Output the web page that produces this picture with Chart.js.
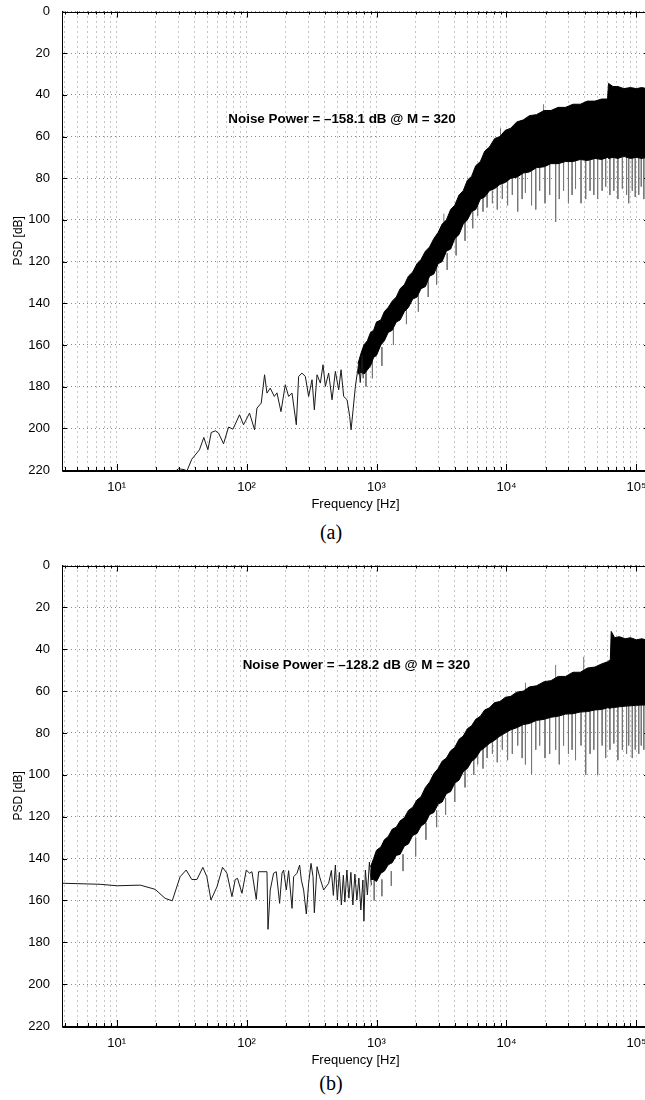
<!DOCTYPE html>
<html><head><meta charset="utf-8">
<script src="https://cdn.jsdelivr.net/npm/chart.js@4/dist/chart.umd.min.js"></script>
<style>
html,body{margin:0;padding:0;background:#fff;width:645px;height:1100px;overflow:hidden;position:relative}
.wrap{position:absolute;left:0;width:652px}
.cap{position:absolute;left:0;width:662px;text-align:center;font-family:"Liberation Serif","Times New Roman",serif;font-size:20px;color:#000;line-height:24px}
</style></head><body>
<div class="wrap" style="top:0;height:515px"><canvas id="ca" width="652" height="515"></canvas></div>
<div class="wrap" style="top:554px;height:517px"><canvas id="cb" width="652" height="517"></canvas></div>
<div class="cap" style="top:520px">(a)</div>
<div class="cap" style="top:1071px">(b)</div>
<script>
// ---------- axes ----------
const xMin = 3.8, xMax = 125000;
const yMin = 0, yMax = 220, yStep = 20;
const xMajorTicks = [10, 100, 1000, 10000, 100000];
const xMajorLabels = ['10¹', '10²', '10³', '10⁴', '10⁵'];
const xMinorMultipliers = [2, 3, 4, 5, 6, 7, 8, 9];
const xTitle = 'Frequency [Hz]';
const yTitle = 'PSD [dB]';

// ---------- chart (a) ----------
const noteA = 'Noise Power = \u2013158.1 dB @ M = 320';
const noteA_f = 543, noteA_db = 51.8;
const lineFreqA = [28.7, 29.9, 33.1, 34.8, 37.9, 43.4, 46.9, 50.4, 53.5, 57.5, 60.9, 66.5, 72.7, 78.6, 88.3, 94.8, 105.4, 115.3, 120.2, 129.7, 137.6, 143.6, 152.2, 163.5, 171.4, 184, 198.6, 210.7, 223.8, 241.5, 251.6, 267.3, 283.3, 300.4, 319, 332.3, 348.6, 369.7, 387.8, 404, 428.2, 454.9, 482.4, 511.4, 533.7, 558.9, 593.6, 621.6, 637.3, 660.3, 687.8, 729.3, 750, 775, 790];
const linePsdA  = [220.3, 219.4, 219.8, 220.4, 214.8, 210.3, 204.4, 210.3, 202, 201.2, 202.3, 207.4, 199.4, 200.4, 193.5, 198.3, 192.7, 200.7, 190.3, 187.9, 174.3, 183.1, 180.7, 184.7, 183, 192, 179.1, 184.7, 183.1, 198.3, 175.1, 173.5, 175.1, 184.7, 176.7, 191.1, 174.3, 178.3, 169.5, 179.9, 173.5, 186.3, 172.7, 181.5, 171.9, 184.7, 186.3, 194.3, 200.7, 191.1, 179.9, 168.7, 178, 165, 176];
const bandFreqA  = [720, 760, 800, 850, 900, 950, 1000, 1080, 1150, 1230, 1320, 1420, 1520, 1640, 1760, 1900, 2050, 2200, 2380, 2560, 2760, 2980, 3200, 3450, 3720, 4000, 4320, 4650, 5000, 5400, 5800, 6300, 6800, 7400, 8100, 8900, 9800, 10800, 12000, 13500, 15000, 17000, 19500, 22000, 25000, 28500, 32500, 37000, 42000, 48000, 54000, 60000, 61000, 66000, 72000, 80000, 90000, 100000, 110000, 120000];
const bandUpperA = [169, 164, 160, 158, 154, 153, 149, 148, 144, 142, 139, 137, 133, 131, 127, 125, 121, 119, 115, 113, 109, 106, 102, 100, 95, 93, 88, 86, 81, 79, 74, 72, 67, 65, 61, 60, 57, 56, 53, 52, 50, 49.5, 47.5, 47.5, 46, 46, 44.5, 44.5, 43, 43, 42, 42, 34.5, 36, 36, 37, 36.5, 37, 36.5, 37];
const bandLowerA = [174, 173, 174, 172, 170, 166, 165, 160, 158, 154, 153, 149, 148, 144, 142, 138, 137, 133, 132, 127, 126, 121, 120, 115, 114, 109, 107, 102, 100, 96, 95, 90, 89, 86, 85, 83, 82, 80, 79.5, 77.5, 77, 75, 74.5, 73, 73, 72, 72, 71, 71.5, 70.5, 71, 70, 70.5, 70, 70.5, 69.5, 70.5, 70, 70.5, 70];
const dipFreqA   = [1100, 1350, 1700, 2100, 2500, 2900, 3500, 4100, 4800, 5500, 6000, 6600, 7100, 7800, 8500, 9300, 10200, 11100, 12200, 13200, 14000, 15600, 16800, 18000, 19800, 21500, 23900, 25500, 27500, 30000, 32000, 34000, 37500, 40700, 44000, 47000, 50300, 54500, 58000, 62500, 67000, 72000, 78000, 84000, 87200, 93000, 98000, 104200, 109000, 114000, 19300, 9000, 3300, 1250, 830, 930];
const dipTopA    = [161, 152, 143, 136, 129, 122, 116, 108, 101, 96, 92, 89, 87, 86, 84, 83, 81, 80, 79, 78, 77.5, 76.5, 75.5, 75, 74.5, 73.5, 73, 73, 72.5, 72, 72, 71.5, 71, 71, 71, 70.5, 70.5, 70.5, 70, 70, 70, 70, 70, 70, 70, 70, 70, 70, 70, 70, 48, 60, 101, 146, 172, 168];
const dipBottomA = [170, 160, 150, 144, 137, 131, 124, 117, 110, 104, 98, 96, 94, 92, 95, 90, 93, 88, 96, 90, 87, 93, 95, 86, 92, 88, 101, 90, 86, 92, 88, 85, 92, 90, 86, 88, 90, 86, 84, 88, 86, 90, 85, 88, 92, 86, 89, 88, 84, 90, 44.5, 56, 97, 142, 180, 176];

// ---------- chart (b) ----------
const noteB = 'Noise Power = \u2013128.2 dB @ M = 320';
const noteB_f = 700, noteB_db = 47.5;
const lineFreqB = [3.8, 7.46, 10.1, 15.2, 19.8, 23.6, 26.8, 30.8, 34.3, 37.9, 41.5, 46.1, 49.5, 53.2, 59.2, 65.3, 70.6, 77.2, 81.8, 85.2, 92.2, 99.5, 105.4, 110, 118.8, 123.7, 143.6, 146.2, 152.2, 161.5, 169.3, 179.6, 187.4, 192.8, 202.2, 210.7, 223.8, 230.2, 244.5, 256.1, 264, 274.9, 288.4, 300.4, 313.4, 324.8, 332.3, 348.6, 365, 392, 428.2, 449.5, 465.6, 482.4, 499.7, 517.9, 536.6, 555.9, 571, 591.5, 613, 635, 658, 681.7, 706, 731.7, 758, 785.5, 800, 821, 851, 881.6, 913];
const linePsdB  = [151.8, 152.3, 153, 152.7, 154.7, 159, 160.2, 148.7, 145.5, 150, 150, 144.2, 148.7, 159.8, 153.5, 144.2, 147, 158.2, 150, 149.5, 156.6, 145.5, 147, 146.3, 159.5, 146.3, 146.3, 173.8, 155, 147, 146.3, 161.4, 147, 145.5, 155, 145.8, 163.8, 148.7, 147, 143.1, 150.3, 155, 166.5, 151.8, 142.3, 148.7, 165.9, 143.9, 148.7, 155, 151.8, 145.7, 157.6, 143.1, 159.8, 146.6, 162.2, 148, 160.8, 145.5, 158.9, 146.6, 162.2, 147.4, 159.8, 149.3, 164.6, 150.3, 169.9, 145.5, 157.4, 141.7, 152.7];
const bandFreqB  = [900, 950, 1000, 1080, 1150, 1230, 1320, 1420, 1520, 1640, 1760, 1900, 2050, 2200, 2380, 2560, 2760, 2980, 3200, 3450, 3720, 4000, 4320, 4650, 5000, 5400, 5800, 6300, 6800, 7400, 8100, 8900, 9800, 10800, 12000, 13500, 15000, 17000, 19500, 22000, 25000, 28500, 32500, 37000, 42000, 48000, 54000, 60000, 63000, 64000, 68000, 74000, 82000, 90000, 100000, 110000, 120000];
const bandUpperB = [144, 140, 136, 134.5, 131, 129.5, 126, 125, 122, 120.5, 117, 115.5, 112, 110.5, 106, 103.5, 99.5, 97, 93.5, 92, 88.5, 87, 83, 81.5, 78, 76.5, 73.5, 72, 69, 68, 65.5, 65, 63, 62.5, 60.5, 60, 58, 57.5, 55.5, 55, 53, 53, 51, 51, 49, 48.5, 47, 46, 45, 31.5, 34.5, 34, 35, 34.5, 35.5, 35, 35.6];
const bandLowerB = [150, 150, 151, 147, 146, 143, 142, 138.5, 138, 134, 133, 129, 128, 124.5, 123, 119, 118, 114, 113, 109, 108, 104, 102.5, 98.5, 97, 93.5, 92, 88.5, 87, 85, 83.5, 81.5, 80, 78.5, 77.5, 76, 75.5, 74, 73.5, 72.5, 72, 71, 70.8, 70, 69.8, 69, 68.8, 68, 68.2, 68, 67.8, 67.5, 67.2, 67, 66.8, 66.7, 66.6];
const dipFreqB   = [1100, 1300, 1600, 2000, 2400, 2900, 3400, 4000, 4800, 5600, 6000, 6600, 7100, 7800, 8500, 9300, 10200, 11100, 12200, 13200, 14000, 15600, 16800, 18000, 19800, 21500, 23900, 25500, 27500, 30000, 32000, 34000, 37500, 40700, 44000, 47000, 50300, 54500, 58000, 62500, 67000, 72000, 78000, 84000, 87200, 93000, 98000, 104200, 109000, 114000, 23900, 39300, 14000, 960];
const dipTopB    = [150, 146, 138, 130, 123, 117, 111, 104, 98, 92, 89.5, 87.5, 86, 84.5, 82.5, 81, 79.5, 78.3, 77.3, 76.4, 75.8, 75, 74.2, 73.8, 73.4, 72.7, 72.2, 71.9, 71.3, 71, 70.8, 70.5, 70, 69.9, 69.6, 69.1, 69, 68.8, 68.3, 68.2, 67.8, 67.6, 67.3, 67.1, 67, 66.9, 66.8, 66.8, 66.7, 66.6, 54.5, 50.5, 59.5, 150];
const dipBottomB = [158, 153, 146, 139, 131, 125, 119, 113, 106, 100, 95, 97, 92, 90, 94, 88, 93, 90, 86, 92, 95, 100, 88, 86, 92, 90, 88, 95, 86, 90, 88, 93, 86, 100, 90, 88, 100, 86, 92, 88, 85, 93, 88, 90, 86, 92, 88, 90, 86, 88, 47.5, 43.6, 56, 160];

// ---------- helpers ----------
const FONT = '"Liberation Sans", Arial, Helvetica, sans-serif';
const xTickValues = [];
[1, 10, 100, 1000, 10000, 100000].forEach(d => {
  [1].concat(xMinorMultipliers).forEach(m => {
    const v = d * m;
    if (v >= xMin && v <= xMax) xTickValues.push(v);
  });
});
function pts(xs, ys) { return xs.map((x, i) => ({x: x, y: ys[i]})); }
function segs(xs, tops, bots) {
  const out = [];
  xs.forEach((x, i) => { out.push({x: x, y: tops[i]}, {x: x, y: bots[i]}, {x: x, y: null}); });
  return out;
}

const framePlugin = {
  id: 'frame',
  afterDraw(chart, args, opts) {
    const {ctx, chartArea: {left, right, top, bottom}, scales: {x, y}} = chart;
    ctx.save();
    ctx.strokeStyle = '#000';
    ctx.lineWidth = 1;
    ctx.beginPath();
    x.ticks.forEach(t => {
      const px = Math.round(x.getPixelForValue(t.value)) + 0.5;
      const L = xMajorTicks.indexOf(t.value) >= 0 ? 6 : 3;
      ctx.moveTo(px, bottom); ctx.lineTo(px, bottom - L);
      ctx.moveTo(px, top); ctx.lineTo(px, top + L);
    });
    y.ticks.forEach(t => {
      const py = Math.round(y.getPixelForValue(t.value)) + 0.5;
      ctx.moveTo(left, py); ctx.lineTo(left + 5, py);
      ctx.moveTo(right, py); ctx.lineTo(right - 5, py);
    });
    ctx.stroke();
    ctx.beginPath();
    ctx.rect(Math.round(left) + 0.5, Math.round(top) + 0.5, Math.round(right - left), Math.round(bottom - top));
    ctx.stroke();
    ctx.font = 'bold 13.4px ' + FONT;
    ctx.fillStyle = '#000';
    ctx.textAlign = 'center';
    ctx.textBaseline = 'middle';
    ctx.fillText(opts.text, x.getPixelForValue(opts.f), y.getPixelForValue(opts.db));
    ctx.restore();
  }
};

function makeChart(id, line, upper, lower, dips, note, padTop, xAxisH) {
  return new Chart(document.getElementById(id), {
    type: 'line',
    data: {
      datasets: [
        {data: line, borderColor: '#1a1a1a', borderWidth: 1, pointRadius: 0, fill: false, tension: 0},
        {data: upper, borderColor: '#000', borderWidth: 1, pointRadius: 0, fill: false, tension: 0},
        {data: lower, borderColor: '#000', borderWidth: 1, pointRadius: 0, fill: '-1', backgroundColor: '#000', tension: 0},
        {data: dips, borderColor: '#777', borderWidth: 1, pointRadius: 0, fill: false, spanGaps: false, tension: 0}
      ]
    },
    options: {
      responsive: false,
      animation: false,
      devicePixelRatio: 1,
      layout: {padding: {left: 0, right: 3, top: padTop, bottom: 0}},
      plugins: {legend: {display: false}, tooltip: {enabled: false}, frame: note},
      scales: {
        x: {
          type: 'logarithmic', min: xMin, max: xMax,
          afterBuildTicks: s => { s.ticks = xTickValues.map(v => ({value: v})); },
          afterFit: s => { s.height = xAxisH; s.paddingLeft = 0; s.paddingRight = 0; },
          ticks: {
            autoSkip: false, maxRotation: 0, padding: 10, color: '#000',
            font: {family: FONT, size: 13},
            callback: v => { const i = xMajorTicks.indexOf(v); return i >= 0 ? xMajorLabels[i] : ''; }
          },
          grid: {color: '#8a8a8a', lineWidth: 1, drawTicks: false},
          border: {display: true, color: '#000', width: 1, dash: [1, 4]},
          title: {display: true, text: xTitle, color: '#000', font: {family: FONT, size: 13}, padding: {top: 0, bottom: 3}}
        },
        y: {
          type: 'linear', reverse: true, min: yMin, max: yMax,
          afterFit: s => { s.width = 62; s.paddingTop = 0; s.paddingBottom = 0; },
          ticks: {stepSize: yStep, padding: 12, color: '#000', font: {family: FONT, size: 13}},
          grid: {color: '#8a8a8a', lineWidth: 1, drawTicks: false},
          border: {display: true, color: '#000', width: 1, dash: [1, 3]},
          title: {display: true, text: yTitle, color: '#000', font: {family: FONT, size: 12}, padding: {top: 11, bottom: 0}}
        }
      }
    },
    plugins: [framePlugin]
  });
}

makeChart('ca', pts(lineFreqA, linePsdA), pts(bandFreqA, bandUpperA), pts(bandFreqA, bandLowerA),
  segs(dipFreqA, dipTopA, dipBottomA), {text: noteA, f: noteA_f, db: noteA_db}, 11.5, 45);
makeChart('cb', pts(lineFreqB, linePsdB), pts(bandFreqB, bandUpperB), pts(bandFreqB, bandLowerB),
  segs(dipFreqB, dipTopB, dipBottomB), {text: noteB, f: noteB_f, db: noteB_db}, 11.5, 45);
</script>
</body></html>
